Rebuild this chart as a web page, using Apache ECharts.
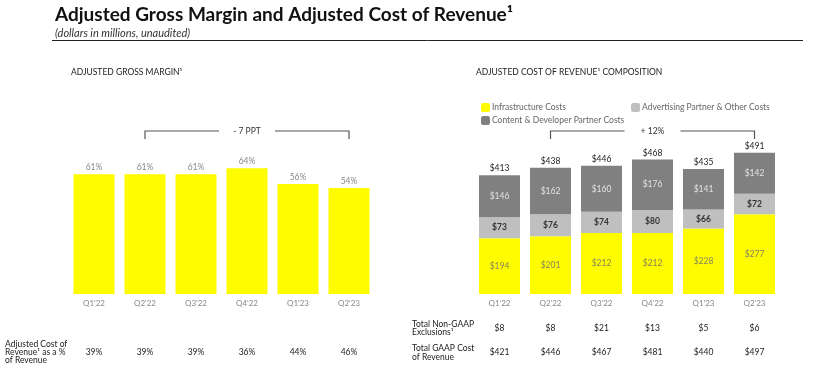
<!DOCTYPE html>
<html><head><meta charset="utf-8">
<script src="https://cdn.jsdelivr.net/npm/echarts/dist/echarts.min.js"></script>
<style>html,body{margin:0;padding:0;background:#fff}#c{width:834px;height:374px}</style>
</head><body><div id="c"></div>
<script>
const quarters = ["Q1'22","Q2'22","Q3'22","Q4'22","Q1'23","Q2'23"];
const grossMargin = [61,61,61,64,56,54];
const infraCosts = [194,201,212,212,228,277];
const adPartnerCosts = [73,76,74,80,66,72];
const contentCosts = [146,162,160,176,141,142];
const totalAdjCost = [413,438,446,468,435,491];
const costPctRevenue = [39,39,39,36,44,46];
const nonGaapExclusions = [8,8,21,13,5,6];
const gaapCost = [421,446,467,481,440,497];
const marginChangeText = '- 7 PPT';
const costChangeText = '+ 12%';

const FONT = 'Lato';
const YELLOW = '#FFFC00', DARK = '#808080', LIGHT = '#BFBFBF';
const chart = echarts.init(document.getElementById('c'), null, {renderer:'canvas'});

const zeros = quarters.map(()=>0);
const axisCommon = {
  type:'category', data:quarters,
  axisLine:{show:false}, axisTick:{show:false},
  axisLabel:{color:'#888', fontSize:8, fontFamily:FONT, margin:5}
};
const option = {
  animation:false,
  backgroundColor:'#fff',
  textStyle:{fontFamily:FONT},
  grid:[
    {left:68.5, width:306, top:97.5, height:196.5},
    {left:474, width:306, top:121.5, height:172.5}
  ],
  xAxis:[
    Object.assign({gridIndex:0}, axisCommon),
    Object.assign({gridIndex:1}, axisCommon)
  ],
  yAxis:[
    {gridIndex:0, type:'value', min:0, max:100, show:false, splitLine:{show:false}},
    {gridIndex:1, type:'value', min:0, max:600, show:false, splitLine:{show:false}}
  ],
  legend:[
    {left:481, top:103, data:['Infrastructure Costs'], itemWidth:9, itemHeight:9, padding:0,
     textStyle:{color:'#666', fontSize:8.5, fontFamily:FONT, padding:[0,0,0,-3]}},
    {left:631, top:103, data:['Advertising Partner & Other Costs'], itemWidth:9, itemHeight:9, padding:0,
     textStyle:{color:'#666', fontSize:8.5, fontFamily:FONT, padding:[0,0,0,-3]}},
    {left:481, top:116, data:['Content & Developer Partner Costs'], itemWidth:9, itemHeight:9, padding:0,
     textStyle:{color:'#666', fontSize:8.5, fontFamily:FONT, padding:[0,0,0,-3]}}
  ],
  series:[
    {name:'Adjusted Gross Margin', type:'bar', xAxisIndex:0, yAxisIndex:0, data:grossMargin,
     barWidth:41, itemStyle:{color:YELLOW},
     label:{show:true, position:'top', distance:2, color:'#888', fontSize:8.5, fontFamily:FONT, formatter:p=>p.value+'%'}},
    {name:'Infrastructure Costs', type:'bar', stack:'c', xAxisIndex:1, yAxisIndex:1, data:infraCosts,
     barWidth:41, itemStyle:{color:YELLOW},
     label:{show:true, position:'inside', color:'#85855a', fontSize:8.5, fontFamily:FONT, formatter:p=>'$'+p.value}},
    {name:'Advertising Partner & Other Costs', type:'bar', stack:'c', xAxisIndex:1, yAxisIndex:1, data:adPartnerCosts,
     barWidth:41, itemStyle:{color:LIGHT},
     label:{show:true, position:'inside', color:'#333', fontSize:8.5, fontWeight:'bold', fontFamily:FONT, formatter:p=>'$'+p.value}},
    {name:'Content & Developer Partner Costs', type:'bar', stack:'c', xAxisIndex:1, yAxisIndex:1, data:contentCosts,
     barWidth:41, itemStyle:{color:DARK},
     label:{show:true, position:'inside', color:'#e2e2e2', fontSize:8.5, fontFamily:FONT, formatter:p=>'$'+p.value}},
    {name:'Total', type:'bar', stack:'c', xAxisIndex:1, yAxisIndex:1, data:zeros,
     barWidth:41, itemStyle:{color:'transparent'}, silent:true,
     label:{show:true, position:'top', distance:2, color:'#222', fontSize:8.5, fontFamily:FONT,
            formatter:p=>'$'+totalAdjCost[p.dataIndex]}}
  ]
};
chart.setOption(option);

function px(axis, i){ return chart.convertToPixel({xAxisIndex:axis}, quarters[i]); }
function bracket(axis, i0, i1, text){
  const xl = px(axis,i0), xr = px(axis,i1), mid=(xl+xr)/2, y=131, yb=139, gap=28;
  return [
    {type:'polyline', shape:{points:[[xl,yb],[xl,y],[mid-gap,y]]}, style:{stroke:'#555', lineWidth:1.2, fill:null}},
    {type:'polyline', shape:{points:[[mid+gap,y],[xr,y],[xr,yb]]}, style:{stroke:'#555', lineWidth:1.2, fill:null}},
    {type:'text', x:mid, y:y, style:{text:text, align:'center', verticalAlign:'middle', fill:'#333', font:'8.5px '+FONT}}
  ];
}
function txt(x,y,t,opts){
  return Object.assign({type:'text', x:x, y:y, style:Object.assign({text:t, fill:'#222', font:'8.5px '+FONT, verticalAlign:'middle'}, opts||{})});
}
const g = [];
g.push(txt(55,15,'Adjusted Gross Margin and Adjusted Cost of Revenue¹',{font:'bold 19px '+FONT, fill:'#111'}));
g.push(txt(55,33,'(dollars in millions, unaudited)',{font:'italic 11px '+FONT, fill:'#333'}));
g.push({type:'line', shape:{x1:52,y1:40.5,x2:803,y2:40.5}, style:{stroke:'#222', lineWidth:1}});
g.push(txt(71,72,'ADJUSTED GROSS MARGIN¹',{font:'8.5px '+FONT}));
g.push(txt(476,72,'ADJUSTED COST OF REVENUE¹ COMPOSITION',{font:'8.5px '+FONT}));
g.push(...bracket(0,1,5,marginChangeText));
g.push(...bracket(1,1,5,costChangeText));
g.push(txt(5,344,'Adjusted Cost of'));
g.push(txt(5,352,'Revenue¹ as a %'));
g.push(txt(5,360,'of Revenue'));
g.push(txt(412,324,'Total Non-GAAP'));
g.push(txt(412,332,'Exclusions¹'));
g.push(txt(412,348,'Total GAAP Cost'));
g.push(txt(412,357,'of Revenue'));
quarters.forEach((q,i)=>{
  g.push(txt(px(0,i),352,costPctRevenue[i]+'%',{align:'center'}));
  g.push(txt(px(1,i),328,'$'+nonGaapExclusions[i],{align:'center'}));
  g.push(txt(px(1,i),352,'$'+gaapCost[i],{align:'center'}));
});
chart.setOption({graphic:{elements:g}});
</script></body></html>
